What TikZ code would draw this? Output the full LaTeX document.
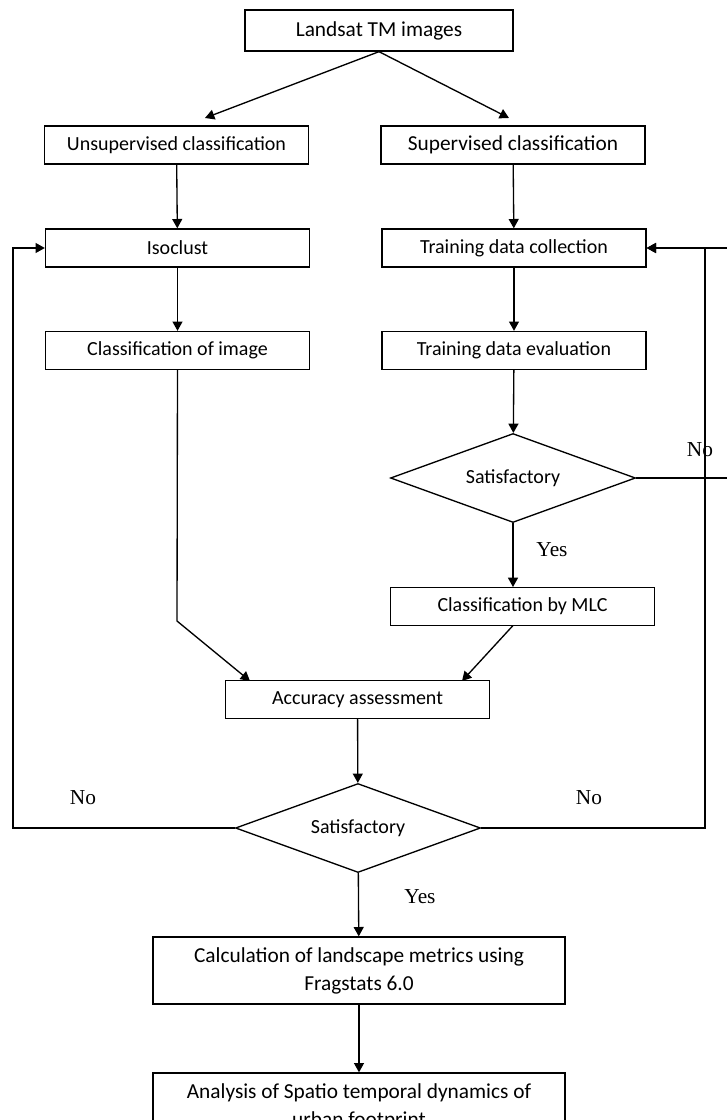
\documentclass[tikz,border=0pt]{standalone}
\usepackage{fontspec}
\setmainfont{Carlito}
\newfontfamily\ynfont{Liberation Serif}
\usetikzlibrary{arrows.meta,shapes.geometric}
\tikzset{
>={Triangle[length=7pt,width=7.5pt]}, % solid arrow heads
every node/.style={font=\fontsize{15}{21}\selectfont}, % box text
box/.style={draw, line width=1pt, inner sep=0pt, minimum width=198pt, minimum height=28.5pt}, % a step
bigbox/.style={box, minimum width=309pt, minimum height=50.25pt, align=center, font=\fontsize{16}{21}\selectfont}, % two-line step
decide/.style={draw, diamond, aspect=2.75, inner sep=0pt, line width=1pt, minimum width=183.75pt, minimum height=66.75pt}, % test
answer/.style={font=\ynfont\fontsize{16}{19}\selectfont}, % Yes / No
}

\begin{document}
\begin{tikzpicture}[x=0.75pt, y=-0.75pt, line width=1pt]
\useasboundingbox (0,0) rectangle (727,1120);
\clip (0,0) rectangle (727,1120);
\node[box, minimum width=201pt, minimum height=30.75pt, font=\fontsize{16}{19}\selectfont] at (379,30.5) (img) {Landsat TM images};
\node[box] at (176.5,145) (uns) {Unsupervised classification};
\node[box, font=\fontsize{16}{19}\selectfont] at (513,145) (sup) {Supervised classification};
\node[box] at (177.5,248) (iso) {Isoclust};
\node[box] at (514,248) (tdc) {Training data collection};
\node[box] at (177.5,350.5) (cls) {Classification of image};
\node[box] at (514,350.5) (tde) {Training data evaluation};
\node[decide] at (513,478) (s1) {Satisfactory};
\node[box] at (522.5,606.5) (mlc) {Classification by MLC};
\node[box] at (357.5,699.5) (acc) {Accuracy assessment};
\node[decide] at (358,828) (s2) {Satisfactory};
\node[bigbox] at (359,970.5) (frag) {Calculation of landscape metrics using\\Fragstats 6.0};
\node[bigbox] at (359,1106.5) (ana) {Analysis of Spatio temporal dynamics of\\urban footprint};
\node[answer] at (700,450) (no1) {No};
\node[answer] at (552,550) (yes1) {Yes};
\node[answer] at (83,798) (no2) {No};
\node[answer] at (589,798) (no3) {No};
\node[answer] at (420,897) (yes2) {Yes};
\coordinate (uTip) at (205,118);
\coordinate (sTip) at (509,118);
\coordinate (mlcIn) at (513,587);
\coordinate (mlcOut) at (513,625.5);
\coordinate (bend) at (177,621);
\coordinate (accL) at (250,681);
\coordinate (accR) at (462,681);
\coordinate (loopL) at (13,828);
\coordinate (loopR) at (705,828);
\coordinate (offR) at (740,478);
\draw[->] (img.south) -- (uTip);
\draw[->] (img.south) -- (sTip);
\draw[->] (uns) -- (iso);
\draw[->] (sup) -- (tdc);
\draw[->] (iso) -- (cls);
\draw[->] (tdc) -- (tde);
\draw[->] (tde) -- (s1);
\draw[->] (s1.south) -- (mlcIn);
\draw[->] (acc) -- (s2);
\draw[->] (s2) -- (frag);
\draw[->] (frag) -- (ana);
\draw[->] (cls.south) -- (bend) -- (accL);
\draw[->] (mlcOut) -- (accR);
\draw[->] (s2.west) -- (loopL) |- (iso.west);
\draw[->] (s2.east) -- (loopR) |- (tdc.east);
\draw[->] (s1.east) -- (offR) |- (tdc.east);
\end{tikzpicture}
\end{document}
